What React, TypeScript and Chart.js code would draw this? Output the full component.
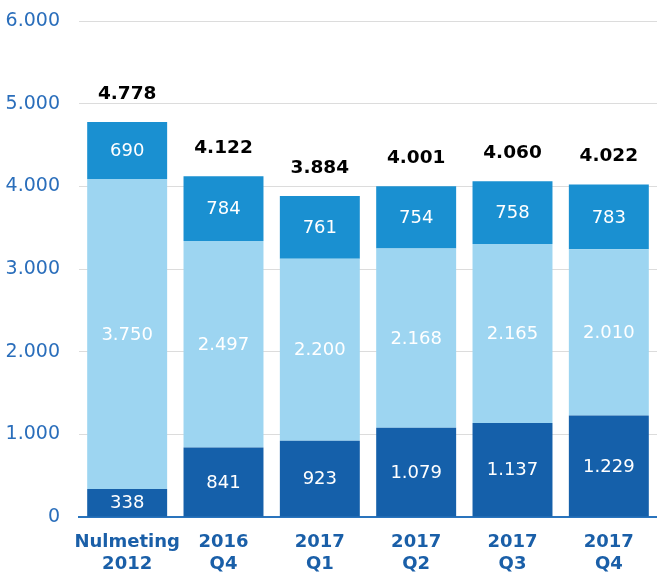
import React, { useEffect, useRef } from "react";
import { Chart, registerables } from "chart.js";

Chart.register(...registerables);

const categories: string[][] = [
  ["Nulmeting", "2012"],
  ["2016", "Q4"],
  ["2017", "Q1"],
  ["2017", "Q2"],
  ["2017", "Q3"],
  ["2017", "Q4"],
];
const seriesBottom = [338, 841, 923, 1079, 1137, 1229];
const seriesMiddle = [3750, 2497, 2200, 2168, 2165, 2010];
const seriesTop = [690, 784, 761, 754, 758, 783];
const totals = [4778, 4122, 3884, 4001, 4060, 4022];
const yMax = 6000;
const yStep = 1000;

const fmt = (v: number) =>
  Math.round(v).toString().replace(/\B(?=(\d{3})+(?!\d))/g, ".");

const FONT = "'DejaVu Sans', Verdana, sans-serif";

const labelPlugin = {
  id: "labels",
  afterDatasetsDraw(chart: any) {
    const ctx = chart.ctx;
    ctx.save();
    ctx.textAlign = "center";
    ctx.textBaseline = "middle";
    chart.data.datasets.forEach((ds: any, di: number) => {
      const meta = chart.getDatasetMeta(di);
      meta.data.forEach((bar: any, i: number) => {
        const y = (bar.y + bar.base) / 2;
        ctx.fillStyle = "#ffffff";
        ctx.font = `18px ${FONT}`;
        ctx.fillText(fmt(ds.data[i]), bar.x, y + 1);
      });
    });
    const lastMeta = chart.getDatasetMeta(chart.data.datasets.length - 1);
    lastMeta.data.forEach((bar: any, i: number) => {
      const yScale = chart.scales.y;
      const yy = yScale.getPixelForValue(totals[i]);
      ctx.fillStyle = "#000000";
      ctx.font = `bold 18.5px ${FONT}`;
      ctx.fillText(fmt(totals[i]), bar.x, yy - 28);
    });
    ctx.restore();
  },
};

export default function App() {
  const ref = useRef<HTMLCanvasElement>(null);
  useEffect(() => {
    document.body.style.margin = "0";
    const chart = new Chart(ref.current!, {
      type: "bar",
      data: {
        labels: categories,
        datasets: [
          { data: seriesBottom, backgroundColor: "#1560aa" },
          { data: seriesMiddle, backgroundColor: "#9dd5f1" },
          { data: seriesTop, backgroundColor: "#1a90d1" },
        ],
      },
      options: {
        animation: false,
        responsive: false,
        maintainAspectRatio: false,
        layout: { padding: { top: 21, right: 0, left: 0, bottom: 0 } },
        plugins: { legend: { display: false }, tooltip: { enabled: false } },
        datasets: { bar: { barPercentage: 0.83, categoryPercentage: 1 } } as any,
        scales: {
          x: {
            stacked: true,
            grid: { display: false, drawTicks: false },
            border: { display: true, color: "#2a74bd", width: 2 },
            ticks: {
              color: "#1a5fa8",
              font: { family: FONT, size: 18, weight: "bold" },
              padding: 15,
              maxRotation: 0,
              autoSkip: false,
            },
            afterFit: (s: any) => {
              s.height = 55;
              s.paddingLeft = 0;
              s.paddingRight = 0;
            },
          },
          y: {
            stacked: true,
            min: 0,
            max: yMax,
            grid: { color: "#dcdcdc", drawTicks: false, lineWidth: 1 },
            border: { display: false },
            ticks: {
              stepSize: yStep,
              color: "#2a6ebb",
              font: { family: FONT, size: 19 },
              padding: 19,
              callback: (v: any) => fmt(Number(v)),
            },
            afterFit: (s: any) => {
              s.width = 79;
              s.paddingTop = 0;
              s.paddingBottom = 0;
            },
          },
        },
      },
      plugins: [labelPlugin],
    });
    return () => chart.destroy();
  }, []);
  return (
    <div style={{ width: 657, height: 572 }}>
      <canvas ref={ref} width={657} height={572} style={{ width: 657, height: 572 }} />
    </div>
  );
}
